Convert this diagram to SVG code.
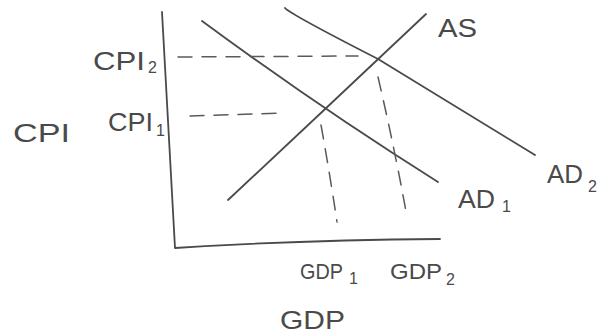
<svg xmlns="http://www.w3.org/2000/svg" width="603" height="336" viewBox="0 0 603 336">
<style>
.ln{fill:none;stroke:#4a4a4a;stroke-width:1.8;stroke-linecap:round;stroke-linejoin:round}
.ds{fill:none;stroke:#5a5a5a;stroke-width:1.5;stroke-dasharray:14 10;stroke-linecap:round}
.t{font-family:"Liberation Sans",Arial,sans-serif;font-size:25px;fill:#4a4a4a}
.g{font-size:22px}
.s{font-size:16px}
</style>
<rect width="603" height="336" fill="#ffffff"/>
<g id="axes">
<path class="ln" d="M162,12 Q168,130 175,248 Q300,240 440,239"/>
</g>
<g id="curves">
<path id="AD1" class="ln" d="M202,21 Q320,108 438,182"/>
<path id="AD2" class="ln" d="M285,8 Q290,14 378,59 L535,155"/>
<path id="AS" class="ln" d="M228,200 L323,111 L426,14"/>
</g>
<g id="guides">
<path class="ds" d="M178,57 L358,56"/>
<path class="ds" d="M190,116 L284,113"/>
<path class="ds" d="M321,125 Q330,175 337,222"/>
<path class="ds" d="M378,77 Q395,150 407,217"/>
</g>
<g id="labels">
<text class="t" x="93" y="70" textLength="52" lengthAdjust="spacingAndGlyphs">CPI</text><text class="t s" x="148" y="73">2</text>
<text class="t" x="108" y="131" textLength="45" lengthAdjust="spacingAndGlyphs">CPI</text><text class="t s" x="156" y="136">1</text>
<text class="t" x="13" y="142" textLength="57" lengthAdjust="spacingAndGlyphs">CPI</text>
<text class="t" x="438" y="37" textLength="39" lengthAdjust="spacingAndGlyphs">AS</text>
<text class="t" x="547" y="183" textLength="36" lengthAdjust="spacingAndGlyphs">AD</text><text class="t s" x="588" y="192">2</text>
<text class="t" x="458" y="208" textLength="37" lengthAdjust="spacingAndGlyphs">AD</text><text class="t s" x="502" y="212">1</text>
<text class="t g" x="300" y="279" textLength="43" lengthAdjust="spacingAndGlyphs">GDP</text><text class="t s" x="349" y="284">1</text>
<text class="t g" x="390" y="279" textLength="52" lengthAdjust="spacingAndGlyphs">GDP</text><text class="t s" x="446" y="285">2</text>
<text class="t" x="280" y="329" textLength="65" lengthAdjust="spacingAndGlyphs">GDP</text>
</g>
</svg>
